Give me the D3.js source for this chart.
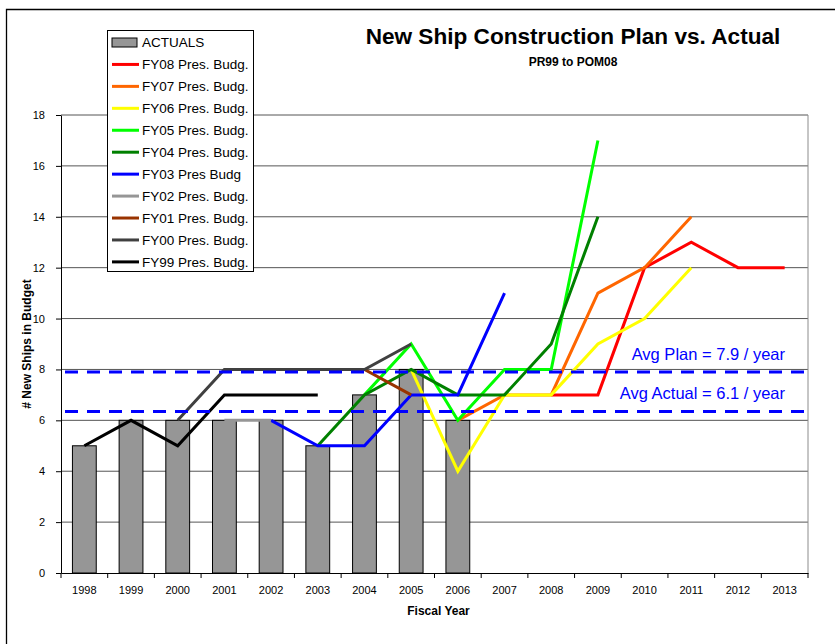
<!DOCTYPE html>
<html>
<head>
<meta charset="utf-8">
<script src="https://cdn.jsdelivr.net/npm/d3@7"></script>
<style>
  body { margin: 0; background: #fff; }
  svg { display: block; font-family: "Liberation Sans", Arial, sans-serif; }
</style>
</head>
<body>
<div id="chart"></div>
<script>
// categories
const years = ['1998', '1999', '2000', '2001', '2002', '2003', '2004', '2005',
  '2006', '2007', '2008', '2009', '2010', '2011', '2012', '2013'];
const yTicks = [0, 2, 4, 6, 8, 10, 12, 14, 16, 18];

// actual ships per year (1998 - 2006)
const actuals = [5, 6, 6, 6, 6, 5, 7, 8, 6];

// budget plans, one value per year (null = not in that budget)
const fy08 = [null, null, null, null, null, null, null, null, null, null, 7, 7, 12, 13, 12, 12];
const fy07 = [null, null, null, null, null, null, null, null, 6, 7, 7, 11, 12, 14, null, null];
const fy06 = [null, null, null, null, null, null, null, 8, 4, 7, 7, 9, 10, 12, null, null];
const fy05 = [null, null, null, null, null, null, 7, 9, 6, 8, 8, 17, null, null, null, null];
const fy04 = [null, null, null, null, null, 5, 7, 8, 7, 7, 9, 14, null, null, null, null];
const fy03 = [null, null, null, null, 6, 5, 5, 7, 7, 11, null, null, null, null, null, null];
const fy02 = [null, null, null, 6, 6, null, null, null, null, null, null, null, null, null, null, null];
const fy01 = [null, null, null, 8, 8, 8, 8, 7, null, null, null, null, null, null, null, null];
const fy00 = [null, null, 6, 8, 8, 8, 8, 9, null, null, null, null, null, null, null, null];
const fy99 = [5, 6, 5, 7, 7, 7, null, null, null, null, null, null, null, null, null, null];

const seriesNames = ['FY08 Pres. Budg.', 'FY07 Pres. Budg.', 'FY06 Pres. Budg.', 'FY05 Pres. Budg.',
  'FY04 Pres. Budg.', 'FY03 Pres Budg', 'FY02 Pres. Budg.', 'FY01 Pres. Budg.',
  'FY00 Pres. Budg.', 'FY99 Pres. Budg.'];
const seriesValues = [fy08, fy07, fy06, fy05, fy04, fy03, fy02, fy01, fy00, fy99];
const seriesColors = ['#ff0000', '#ff6600', '#ffff00', '#00ff00', '#008000',
  '#0000ff', '#969696', '#993300', '#404040', '#000000'];

// average reference lines
const avgLabels = ['Avg Plan = 7.9 / year', 'Avg Actual = 6.1 / year'];
const avgLevels = [7.9, 6.35];

const width = 835;
const height = 644;
const margin = { top: 115, right: 27, bottom: 71, left: 61 };

const svg = d3.select('#chart')
  .append('svg')
  .attr('width', width)
  .attr('height', height);

// outer frame (left and top edges visible)
svg.append('path')
  .attr('d', `M6.5,${height} V9.5 H${width}`)
  .attr('fill', 'none')
  .attr('stroke', '#000')
  .attr('stroke-width', 1.3);

const x = d3.scaleBand()
  .domain(years)
  .range([margin.left, width - margin.right]);
const xBar = x.copy().paddingInner(0.49).paddingOuter(0.245);

const y = d3.scaleLinear()
  .domain([0, 18])
  .range([height - margin.bottom, margin.top]);

// gridlines
svg.append('g')
  .selectAll('line')
  .data(yTicks.filter((d) => d > 0))
  .enter()
  .append('line')
  .attr('x1', margin.left)
  .attr('x2', width - margin.right)
  .attr('y1', (d) => y(d))
  .attr('y2', (d) => y(d))
  .attr('stroke', '#555')
  .attr('stroke-width', 1);

// right border of plot area
svg.append('line')
  .attr('x1', width - margin.right)
  .attr('x2', width - margin.right)
  .attr('y1', y(18))
  .attr('y2', y(0))
  .attr('stroke', '#8c8c8c');

// actual bars
svg.append('g')
  .selectAll('rect')
  .data(actuals)
  .enter()
  .append('rect')
  .attr('x', (d, i) => xBar(years[i]))
  .attr('y', (d) => y(d))
  .attr('width', xBar.bandwidth())
  .attr('height', (d) => y(0) - y(d))
  .attr('fill', '#969696')
  .attr('stroke', '#000')
  .attr('stroke-width', 1);

// plan lines
const line = d3.line()
  .defined((d) => d != null)
  .x((d, i) => x(years[i]) + x.bandwidth() / 2)
  .y((d) => y(d));

svg.append('g')
  .selectAll('path')
  .data(seriesValues)
  .enter()
  .append('path')
  .attr('d', (d) => line(d))
  .attr('fill', 'none')
  .attr('stroke', (d, i) => seriesColors[i])
  .attr('stroke-width', 3)
  .attr('stroke-linejoin', 'miter');

// average dashed lines
svg.append('g')
  .selectAll('line')
  .data(avgLevels)
  .enter()
  .append('line')
  .attr('x1', margin.left + 4)
  .attr('x2', width - margin.right)
  .attr('y1', (d) => y(d))
  .attr('y2', (d) => y(d))
  .attr('stroke', '#0000ff')
  .attr('stroke-width', 3)
  .attr('stroke-dasharray', '13,9');

svg.append('g')
  .selectAll('text')
  .data(avgLabels)
  .enter()
  .append('text')
  .attr('x', 785)
  .attr('y', (d, i) => y(avgLevels[i]) - 12)
  .attr('text-anchor', 'end')
  .attr('fill', '#0000ff')
  .style('font-size', '16.5px')
  .text((d) => d);

// x axis
const xAxis = svg.append('g')
  .attr('transform', `translate(0,${y(0)})`)
  .call(d3.axisBottom(x).tickSize(0).tickPadding(13));
xAxis.select('.domain').attr('stroke', '#000');
xAxis.selectAll('text').style('font-size', '11px').attr('fill', '#000');

// tick marks between categories
svg.append('g')
  .selectAll('line')
  .data(d3.range(years.length + 1))
  .enter()
  .append('line')
  .attr('x1', (i) => margin.left + i * x.step())
  .attr('x2', (i) => margin.left + i * x.step())
  .attr('y1', y(0))
  .attr('y2', y(0) + 5)
  .attr('stroke', '#000');

// y axis
const yAxis = svg.append('g')
  .attr('transform', `translate(${margin.left},0)`)
  .call(d3.axisLeft(y).tickValues(yTicks).tickSize(5).tickSizeOuter(0).tickPadding(11));
yAxis.select('.domain').attr('stroke', '#000');
yAxis.selectAll('text').style('font-size', '11px').attr('fill', '#000');

// axis titles
svg.append('text')
  .attr('x', (margin.left + width - margin.right) / 2 + 4)
  .attr('y', 615)
  .attr('text-anchor', 'middle')
  .style('font-size', '12px')
  .style('font-weight', 'bold')
  .text('Fiscal Year');

svg.append('text')
  .attr('transform', `translate(31,${(y(0) + y(18)) / 2}) rotate(-90)`)
  .attr('text-anchor', 'middle')
  .style('font-size', '12px')
  .style('font-weight', 'bold')
  .text('# New Ships in Budget');

// titles
svg.append('text')
  .attr('x', 573)
  .attr('y', 44)
  .attr('text-anchor', 'middle')
  .style('font-size', '22.6px')
  .style('font-weight', 'bold')
  .text('New Ship Construction Plan vs. Actual');

svg.append('text')
  .attr('x', 573)
  .attr('y', 66)
  .attr('text-anchor', 'middle')
  .style('font-size', '12px')
  .style('font-weight', 'bold')
  .text('PR99 to POM08');

// legend
const legend = svg.append('g');
legend.append('rect')
  .attr('x', 107.5)
  .attr('y', 30.5)
  .attr('width', 146)
  .attr('height', 241)
  .attr('fill', '#fff')
  .attr('stroke', '#000');

const rowY = (i) => 42.5 + i * 21.94;

legend.append('rect')
  .attr('x', 112)
  .attr('y', rowY(0) - 4.5)
  .attr('width', 25)
  .attr('height', 9)
  .attr('fill', '#969696')
  .attr('stroke', '#000');

legend.append('text')
  .attr('x', 142)
  .attr('y', rowY(0))
  .attr('dy', '0.36em')
  .style('font-size', '13.5px')
  .text('ACTUALS');

const items = legend.selectAll('.item')
  .data(seriesNames)
  .enter()
  .append('g')
  .attr('class', 'item');

items.append('line')
  .attr('x1', 112)
  .attr('x2', 139)
  .attr('y1', (d, i) => rowY(i + 1))
  .attr('y2', (d, i) => rowY(i + 1))
  .attr('stroke', (d, i) => seriesColors[i])
  .attr('stroke-width', 3);

items.append('text')
  .attr('x', 142)
  .attr('y', (d, i) => rowY(i + 1))
  .attr('dy', '0.36em')
  .style('font-size', '13.5px')
  .text((d) => d);
</script>
</body>
</html>
